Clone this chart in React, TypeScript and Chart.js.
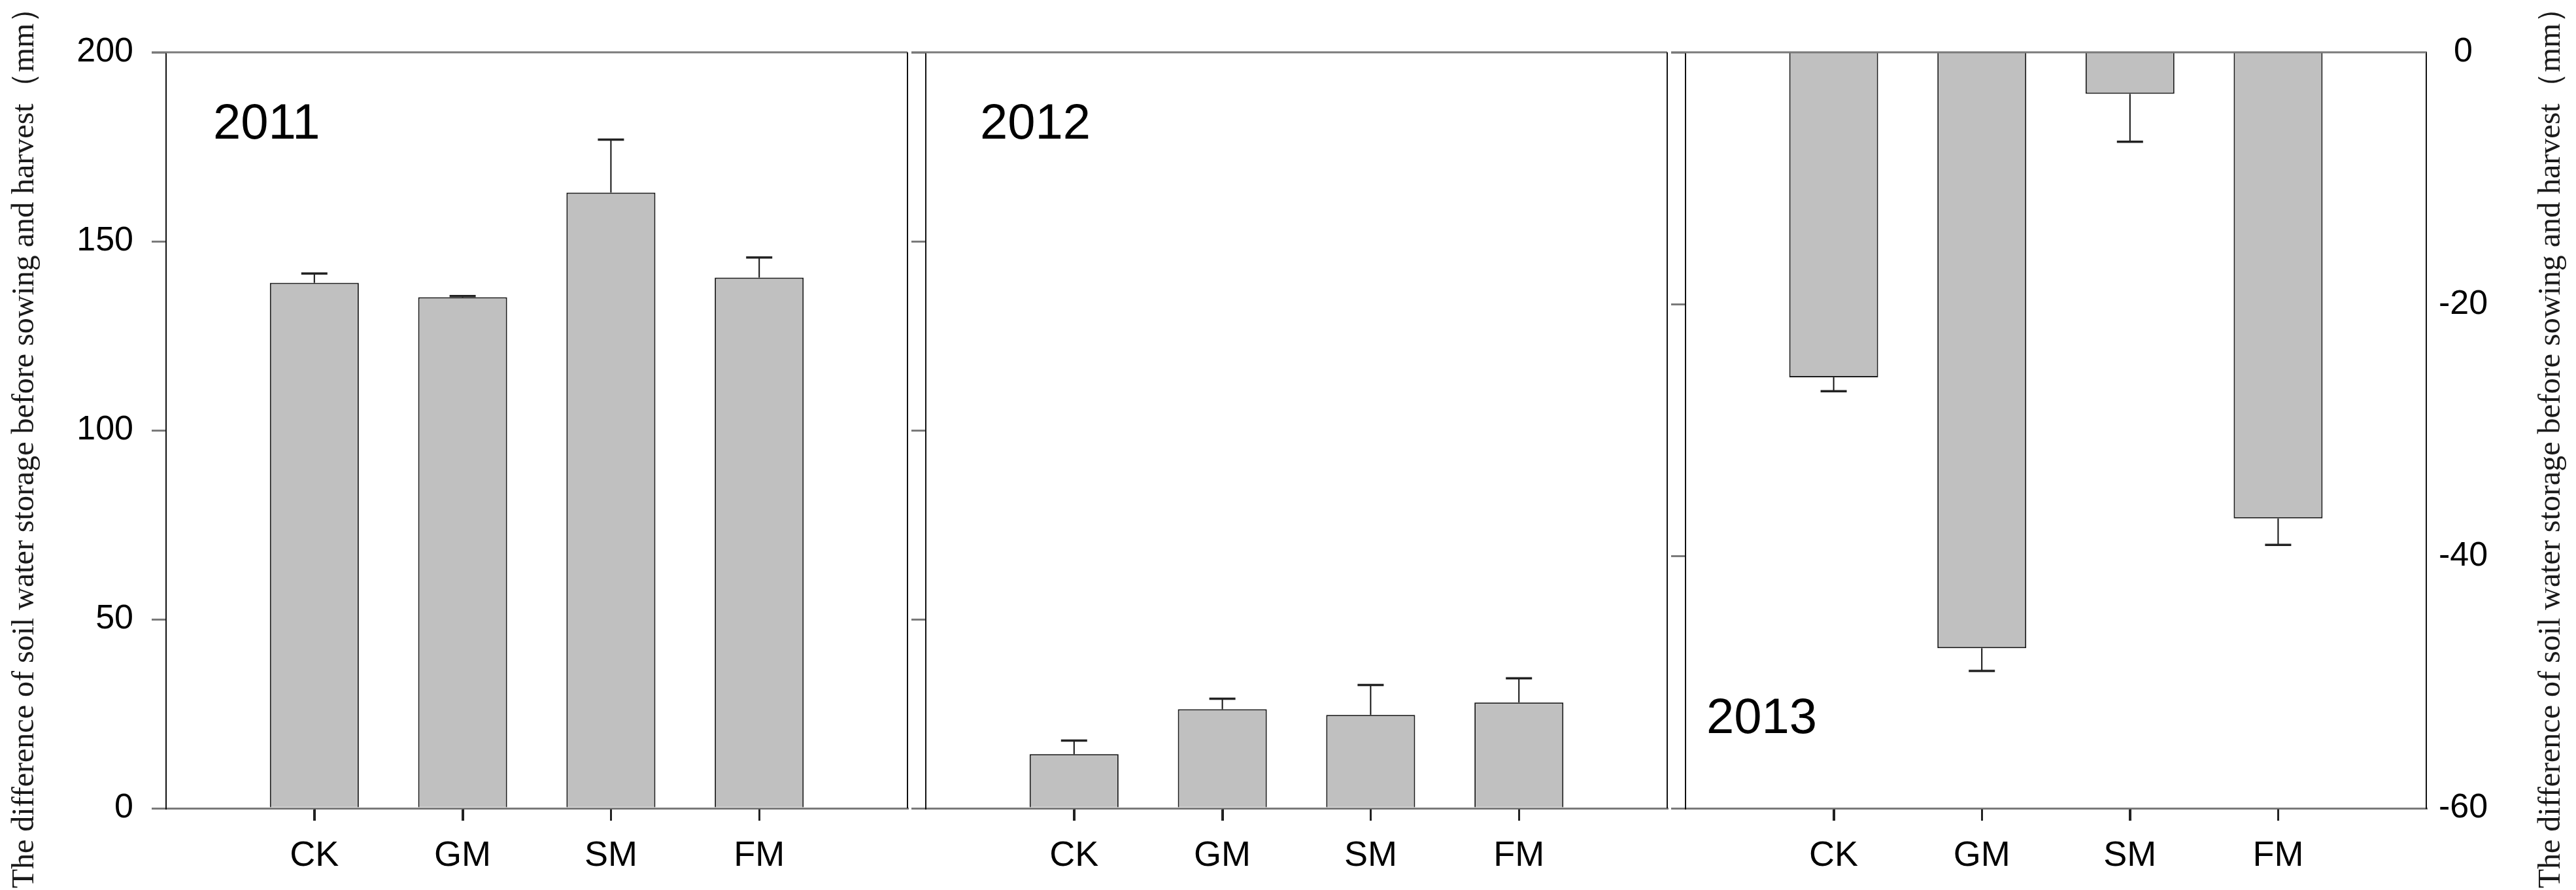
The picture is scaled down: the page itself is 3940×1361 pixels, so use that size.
import React, { useEffect, useRef } from 'react';
import { Chart, registerables } from 'chart.js';

Chart.register(...registerables);

// ---- data ----
const categories = ['CK', 'GM', 'SM', 'FM'];
const years = ['2011', '2012', '2013'];
const values2011 = [139.0, 135.2, 162.9, 140.4];
const errors2011 = [2.5, 0.3, 14.0, 5.3];
const values2012 = [14.3, 26.2, 24.7, 28.0];
const errors2012 = [3.6, 2.8, 7.9, 6.4];
const values2013 = [-25.8, -47.3, -3.3, -37.0];
const errors2013 = [1.1, 1.8, 3.8, 2.1];
const leftAxisRange = [0, 200];
const leftAxisStep = 50;
const rightAxisRange = [-60, 0];
const rightAxisStep = 20;
const axisTitle = 'The difference of soil water storage before sowing and harvest（mm）';

// ---- layout / style ----
const W = 3940;
const H = 1361;
const TOP = 80;
const BOTTOM = 1236;
const X_AXIS_H = H - BOTTOM;
const TICK_LEN = 22;
const X_TICK_LEN = 19;
const SANS = 'Arial, "Liberation Sans", sans-serif';
const SERIF = '"Times New Roman", "Liberation Serif", serif';
const BAR_FILL = '#c0c0c0';
const FRAME_GRAY = '#7a7a7a';

type Panel = {
  year: string;
  values: number[];
  errors: number[];
  left: number;
  right: number;
  range: number[];
  step: number;
  yPos: 'left' | 'right';
  showLeftLabels: boolean;
  yearX: number;
  yearY: number;
  titleX?: number;
};

const panels: Panel[] = [
  { year: years[0], values: values2011, errors: errors2011, left: 254, right: 1388, range: leftAxisRange, step: leftAxisStep, yPos: 'left', showLeftLabels: true, yearX: 326, yearY: 212, titleX: 38 },
  { year: years[1], values: values2012, errors: errors2012, left: 1416, right: 2550, range: leftAxisRange, step: leftAxisStep, yPos: 'left', showLeftLabels: false, yearX: 1499, yearY: 212 },
  { year: years[2], values: values2013, errors: errors2013, left: 2578, right: 3711, range: rightAxisRange, step: rightAxisStep, yPos: 'right', showLeftLabels: false, yearX: 2610, yearY: 1121, titleX: 3902 },
];

function makeConfig(p: Panel): any {
  // categories sit at positions 1..n on an axis running from 0 to n+1
  const data = categories.map((c, i) => ({ x: i + 1, y: p.values[i] }));
  const isRight = p.yPos === 'right';

  const leftAxis: any = {
    type: 'linear',
    position: 'left',
    min: p.range[0],
    max: p.range[1],
    ticks: {
      display: p.showLeftLabels,
      stepSize: p.step,
      color: '#000',
      padding: 28,
      font: { family: SANS, size: 52 },
    },
    grid: { drawOnChartArea: false, drawTicks: true, tickLength: TICK_LEN, color: FRAME_GRAY, tickColor: FRAME_GRAY, lineWidth: 3, tickWidth: 3 },
    border: { display: true, color: '#111', width: 2 },
    afterFit: (s: any) => { s.width = p.showLeftLabels ? p.left : TICK_LEN; },
  };

  const scales: any = {
    x: {
      type: 'linear',
      min: 0,
      max: categories.length + 1,
      offset: false,
      afterBuildTicks: (s: any) => {
        s.ticks = categories.map((c, i) => ({ value: i + 1 }));
      },
      ticks: {
        color: '#000',
        padding: 22,
        maxRotation: 0,
        autoSkip: false,
        font: { family: SANS, size: 54 },
        callback: (v: any) => categories[Math.round(v) - 1] ?? '',
      },
      grid: { display: true, offset: false, drawOnChartArea: false, drawTicks: true, tickLength: X_TICK_LEN, color: '#222', tickColor: '#222', lineWidth: 3, tickWidth: 3 },
      border: { display: true, color: FRAME_GRAY, width: 3 },
      afterFit: (s: any) => { s.height = X_AXIS_H; },
    },
  };

  if (isRight) {
    scales.yl = leftAxis;
    scales.y = {
      type: 'linear',
      position: 'right',
      min: p.range[0],
      max: p.range[1],
      ticks: { stepSize: p.step, color: '#000', padding: 19, crossAlign: 'center', font: { family: SANS, size: 52 } },
      grid: { drawOnChartArea: false, drawTicks: false },
      border: { display: true, color: '#111', width: 2 },
      afterFit: (s: any) => { s.width = W - p.right; },
    };
  } else {
    scales.y = leftAxis;
  }

  const padLeft = p.showLeftLabels ? 0 : p.left - TICK_LEN;
  const padRight = isRight ? 0 : W - p.right;

  const decorations = {
    id: 'decor' + p.year,
    afterDatasetsDraw(chart: any) {
      const ctx = chart.ctx;
      const yScale = chart.scales.y;
      const meta = chart.getDatasetMeta(0);
      ctx.save();
      meta.data.forEach((bar: any, i: number) => {
        const v = p.values[i];
        const e = p.errors[i];
        const end = v >= 0 ? v + e : v - e;
        const x = bar.x;
        const y0 = yScale.getPixelForValue(v);
        const y1 = yScale.getPixelForValue(end);
        ctx.strokeStyle = '#111';
        ctx.lineWidth = 2;
        ctx.beginPath();
        ctx.moveTo(x, y0);
        ctx.lineTo(x, y1);
        ctx.stroke();
        ctx.strokeStyle = '#222';
        ctx.lineWidth = 3.5;
        ctx.beginPath();
        ctx.moveTo(x - 20, y1);
        ctx.lineTo(x + 20, y1);
        ctx.stroke();
      });
      ctx.restore();
    },
    afterDraw(chart: any) {
      const ctx = chart.ctx;
      const a = chart.chartArea;
      const xScale = chart.scales.x;
      ctx.save();
      // category tick marks below the x axis (same places as the axis ticks)
      ctx.strokeStyle = '#222';
      ctx.lineWidth = 3;
      categories.forEach((c, i) => {
        const x = Math.round(xScale.getPixelForValue(i + 1)) + 0.5;
        ctx.beginPath();
        ctx.moveTo(x, a.bottom + 1.5);
        ctx.lineTo(x, a.bottom + X_TICK_LEN);
        ctx.stroke();
      });
      // top frame line
      ctx.strokeStyle = FRAME_GRAY;
      ctx.lineWidth = 3;
      ctx.beginPath();
      ctx.moveTo(a.left - TICK_LEN, a.top);
      ctx.lineTo(a.right, a.top);
      ctx.stroke();
      // right frame line
      if (!isRight) {
        ctx.strokeStyle = '#111';
        ctx.lineWidth = 2;
        ctx.beginPath();
        ctx.moveTo(a.right, a.top);
        ctx.lineTo(a.right, a.bottom);
        ctx.stroke();
      }
      // year label
      ctx.fillStyle = '#000';
      ctx.font = `76px ${SANS}`;
      ctx.textAlign = 'left';
      ctx.textBaseline = 'alphabetic';
      ctx.fillText(p.year, p.yearX, p.yearY);
      // axis title
      if (p.titleX !== undefined) {
        ctx.translate(p.titleX, 673);
        ctx.rotate(-Math.PI / 2);
        ctx.fillStyle = '#1a1a1a';
        ctx.font = `48px ${SERIF}`;
        ctx.textAlign = 'center';
        ctx.textBaseline = 'middle';
        ctx.fillText(axisTitle, 0, 0);
      }
      ctx.restore();
    },
  };

  return {
    type: 'bar',
    data: {
      datasets: [
        {
          data,
          backgroundColor: BAR_FILL,
          borderColor: '#1a1a1a',
          borderWidth: 2,
          borderSkipped: 'start',
          barPercentage: 0.6,
          categoryPercentage: 1,
          yAxisID: 'y',
        },
      ],
    },
    options: {
      responsive: false,
      maintainAspectRatio: false,
      animation: false,
      devicePixelRatio: 1,
      layout: { padding: { left: padLeft, right: padRight, top: TOP, bottom: 0 } },
      plugins: { legend: { display: false }, tooltip: { enabled: false }, title: { display: false } },
      scales,
    },
    plugins: [decorations],
  };
}

function PanelCanvas({ panel }: { panel: Panel }) {
  const ref = useRef<HTMLCanvasElement | null>(null);
  useEffect(() => {
    if (!ref.current) return;
    const chart = new Chart(ref.current, makeConfig(panel));
    return () => chart.destroy();
  }, [panel]);
  return <canvas ref={ref} width={W} height={H} style={{ position: 'absolute', left: 0, top: 0, width: W, height: H }} />;
}

export default function App() {
  return (
    <div style={{ position: 'absolute', left: 0, top: 0, width: W, height: H, background: '#fff' }}>
      {panels.map((p) => (
        <PanelCanvas key={p.year} panel={p} />
      ))}
    </div>
  );
}
